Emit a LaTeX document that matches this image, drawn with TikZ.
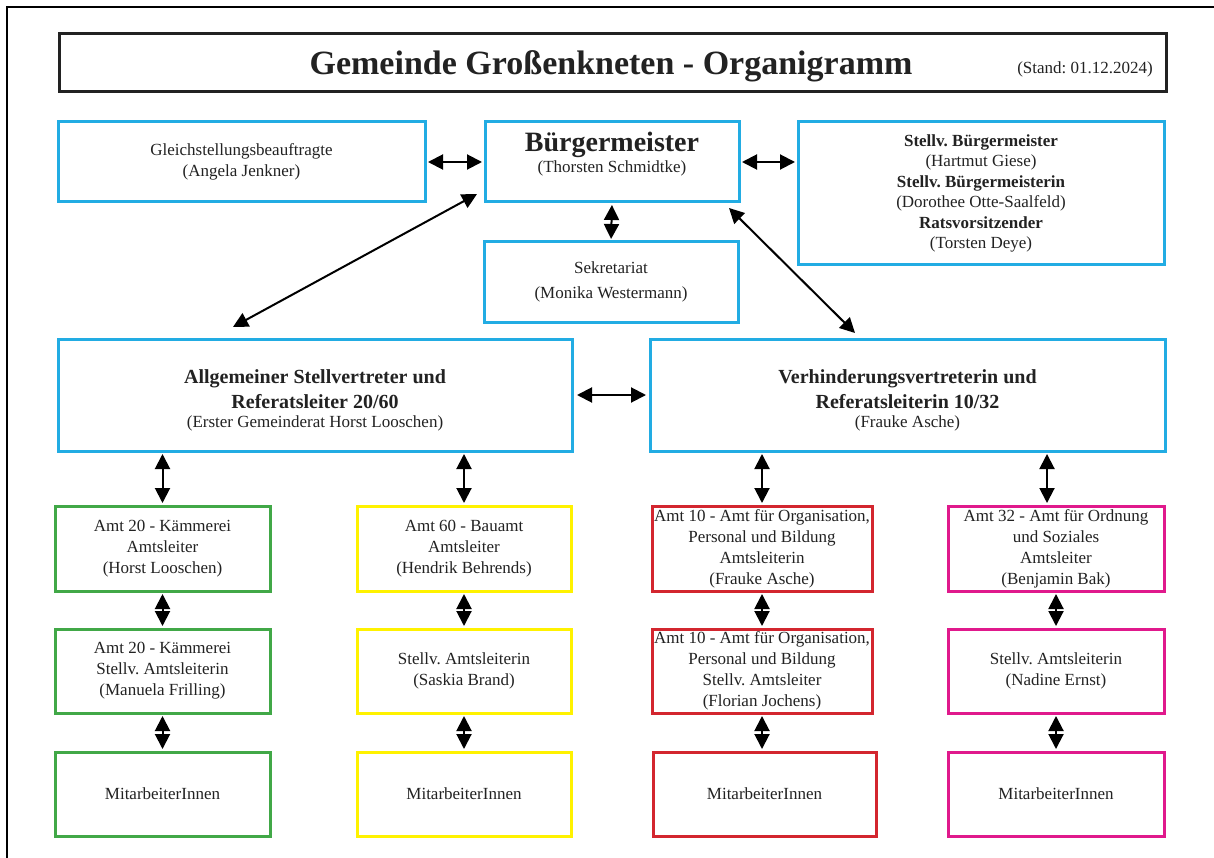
\documentclass[tikz,border=0pt]{standalone}
\usepackage{fontspec}
\setmainfont{Liberation Serif}
\usetikzlibrary{arrows.meta,calc}
\definecolor{cblue}{HTML}{22ACE3}
\definecolor{cgreen}{HTML}{41A847}
\definecolor{cyellow}{HTML}{FFF200}
\definecolor{cred}{HTML}{D3262F}
\definecolor{cmag}{HTML}{E0198C}
\definecolor{ctxt}{HTML}{222222}
\frenchspacing
\newcommand\bigb{\fontsize{20}{25}\selectfont\bfseries}
\tikzset{
  box/.style={draw=#1, line width=3pt, inner sep=0pt, outer sep=0pt, align=center,
    text=ctxt, font=\fontsize{17}{21}\selectfont\frenchspacing},
  txt/.style={inner sep=0pt, align=center, text=ctxt, font=\fontsize{17}{21}\selectfont\frenchspacing},
  arr/.style={line width=2pt, draw=black, shorten <=3pt, shorten >=3pt,
    {Triangle[length=15pt,width=15pt]}-{Triangle[length=15pt,width=15pt]}},
}
\newcommand\bx[7]{\node[box=#6, minimum width={#4-#2}, minimum height={#5-#3}] (#1) at ({(#2+#4)/2},{(#3+#5)/2}) {#7};}
\begin{document}
\begin{tikzpicture}[x=1pt,y=-1pt]
\useasboundingbox (0,0) rectangle (1214,858);
\fill[white] (0,0) rectangle (1214,858);
\draw[line width=1.2pt] (7,858) -- (7,7) -- (1214,7);
% title
\node[draw=ctxt, line width=3pt, inner sep=0pt, outer sep=0pt, minimum width=1107, minimum height=58] (title) at (612.5,63) {};
\node[inner sep=0pt, anchor=base, text=ctxt, font=\fontsize{34}{40}\selectfont\bfseries] (ttl) at (611,75) {Gemeinde Großenkneten - Organigramm};
\node[inner sep=0pt, anchor=base, text=ctxt, font=\fontsize{17}{21}\selectfont] (stand) at (1085,74) {(Stand: 01.12.2024)};
% top row
\bx{gl}{58}{122}{425}{202}{cblue}{Gleichstellungsbeauftragte\\(Angela Jenkner)}
\bx{bm}{485}{122}{739}{202}{cblue}{}
\node[txt] (bmt) at (612,154) {{\fontsize{28}{30}\selectfont\bfseries Bürgermeister}\\(Thorsten Schmidtke)};
\bx{st}{798}{122}{1164}{265}{cblue}{\textbf{Stellv. Bürgermeister}\\[-0.6pt](Hartmut Giese)\\[-0.6pt]\textbf{Stellv. Bürgermeisterin}\\[-0.6pt](Dorothee Otte-Saalfeld)\\[-0.6pt]\textbf{Ratsvorsitzender}\\[-0.6pt](Torsten Deye)}
\bx{sek}{484}{242}{738}{322}{cblue}{Sekretariat\\[4pt](Monika Westermann)}
% second row
\bx{allg}{58}{339}{572}{451}{cblue}{{\bigb\rule{0pt}{25pt}Allgemeiner Stellvertreter und}\\[4pt]{\bigb Referatsleiter 20/60}\\[-2pt](Erster Gemeinderat Horst Looschen)}
\bx{verh}{650}{339}{1165}{451}{cblue}{{\bigb\rule{0pt}{25pt}Verhinderungsvertreterin und}\\[4pt]{\bigb Referatsleiterin 10/32}\\[-2pt](Frauke Asche)}
% columns
\bx{g1}{55}{506}{270}{591}{cgreen}{Amt 20 - Kämmerei\\Amtsleiter\\(Horst Looschen)}
\bx{g2}{55}{629}{270}{713}{cgreen}{Amt 20 - Kämmerei\\Stellv. Amtsleiterin\\(Manuela Frilling)}
\bx{g3}{55}{752}{270}{836}{cgreen}{MitarbeiterInnen}
\bx{y1}{357}{506}{571}{591}{cyellow}{Amt 60 - Bauamt\\Amtsleiter\\(Hendrik Behrends)}
\bx{y2}{357}{629}{571}{713}{cyellow}{Stellv. Amtsleiterin\\(Saskia Brand)}
\bx{y3}{357}{752}{571}{836}{cyellow}{MitarbeiterInnen}
\bx{r1}{652}{506}{872}{591}{cred}{Amt 10 - Amt für Organisation,\\Personal und Bildung\\Amtsleiterin\\(Frauke Asche)}
\bx{r2}{652}{629}{872}{713}{cred}{Amt 10 - Amt für Organisation,\\Personal und Bildung\\Stellv. Amtsleiter\\(Florian Jochens)}
\bx{r3}{653}{752}{876}{836}{cred}{MitarbeiterInnen}
\bx{m1}{948}{506}{1164}{591}{cmag}{Amt 32 - Amt für Ordnung\\und Soziales\\Amtsleiter\\(Benjamin Bak)}
\bx{m2}{948}{629}{1164}{713}{cmag}{Stellv. Amtsleiterin\\(Nadine Ernst)}
\bx{m3}{948}{752}{1164}{836}{cmag}{MitarbeiterInnen}
% connectors
\draw[arr] (gl.east) -- (bm.west);
\draw[arr] (bm.east) -- (bm.east -| st.west);
\draw[arr] (bm.south) -- (sek.north);
\draw[arr, shorten <=0pt, shorten >=0pt] ($(allg.north west)+(175,-12)$) -- ($(bm.south west)+(-8,-8)$);
\draw[arr, shorten <=0pt, shorten >=0pt] ($(bm.south east)+(-10,6)$) -- ($(verh.north west)+(205,-6)$);
\draw[arr, shorten <=5pt, shorten >=4pt] (allg.east) -- (verh.west);
\draw[arr] (allg.south -| g1.north) -- (g1.north);
\draw[arr] (allg.south -| y1.north) -- (y1.north);
\draw[arr] (verh.south -| r1.north) -- (r1.north);
\draw[arr] ([xshift=-9pt]verh.south -| m1.north) -- ([xshift=-9pt]m1.north);
\foreach \c in {g,y,r,m}{
  \draw[arr] (\c1.south) -- (\c2.north);
  \draw[arr] (\c2.south) -- (\c2.south |- \c3.north);
}
\end{tikzpicture}
\end{document}
